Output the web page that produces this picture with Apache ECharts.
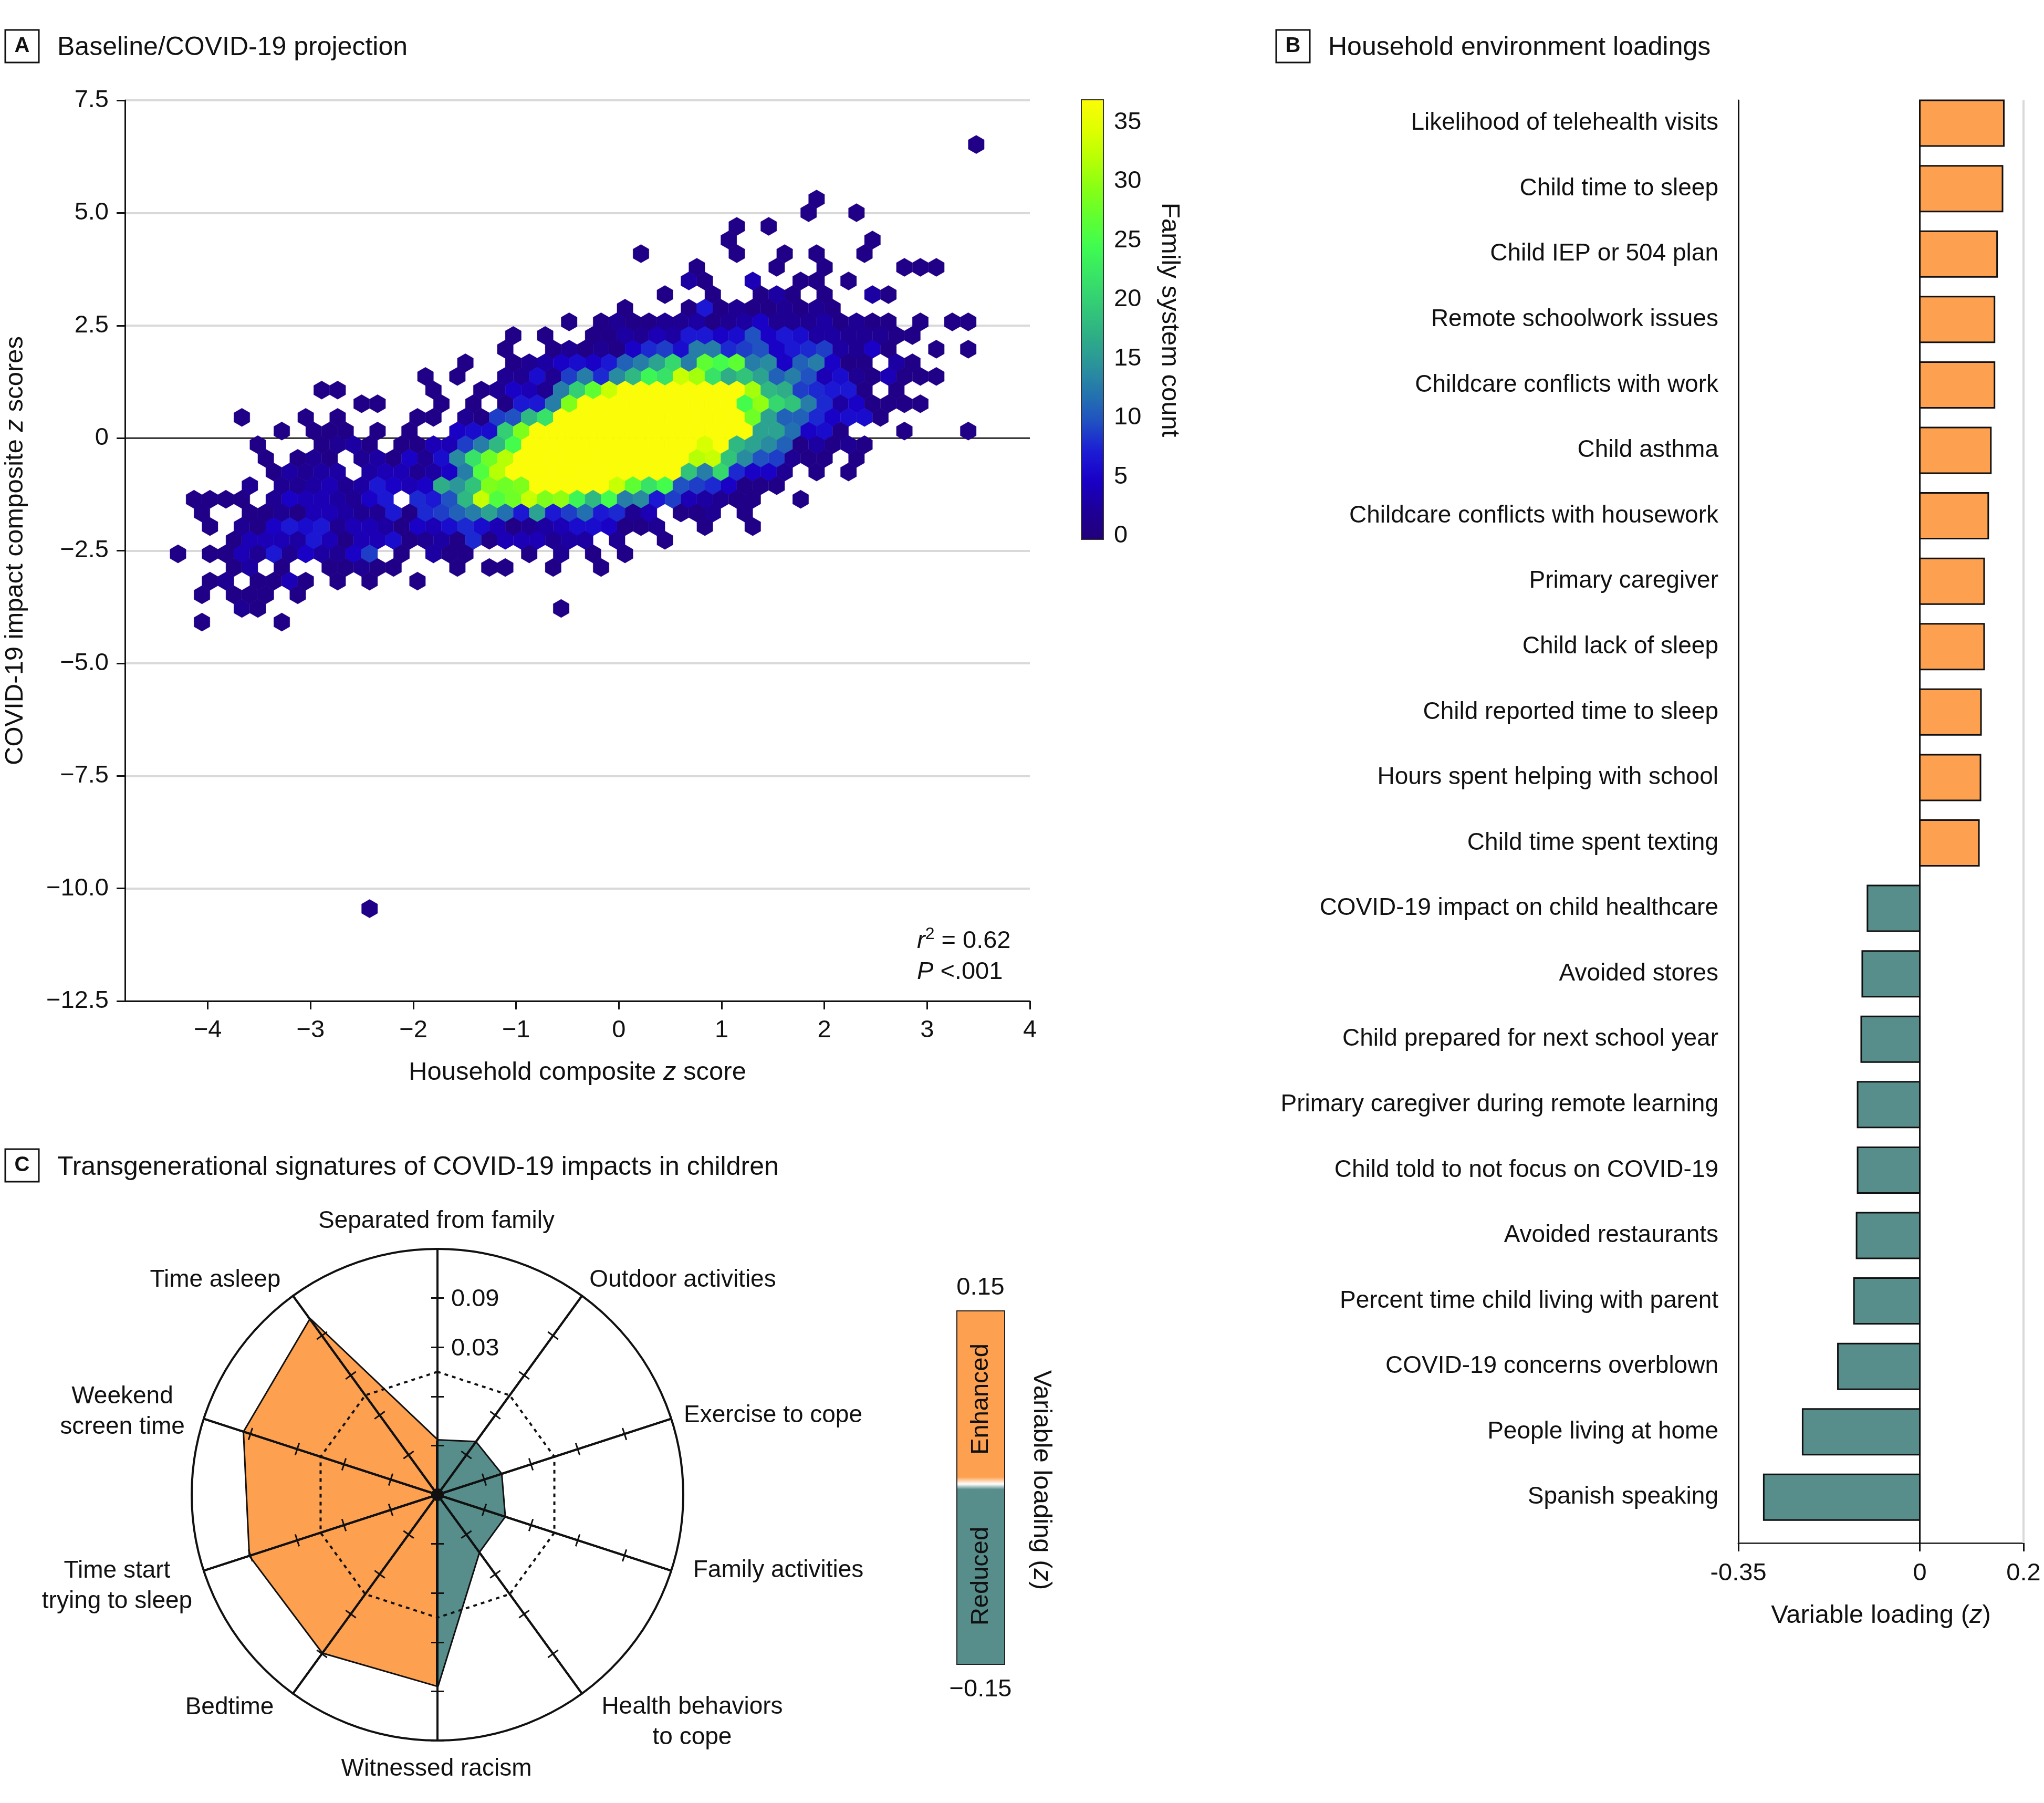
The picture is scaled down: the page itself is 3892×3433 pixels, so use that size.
<!DOCTYPE html>
<html>
<head>
<meta charset="utf-8">
<title>Baseline/COVID-19 projection</title>
<style>
  html, body { margin: 0; padding: 0; background: #fff; }
  #chart { width: 3892px; height: 3433px; }
</style>
<script src="https://cdn.jsdelivr.net/npm/echarts@6/dist/echarts.min.js"></script>
</head>
<body>
<div id="chart"></div>
<script>
// panel A: hexbin counts, one list per hex row. row index r gives y, start is the first column
const hexRowIndex = [21, 17, 16, 15, 14, 13, 12, 11, 10, 9, 8, 7, 6, 5, 4, 3, 2, 1, 0, -1, -2, -3, -4, -5, -6, -7, -8, -9, -10, -11, -12, -13, -14, -35];
const hexRowStart = [50, 40, 39, 35, 34, 29, 32, 32, 30, 28, 24, 21, 20, 18, 15, 9, 11, 4, 6, 5, 5, 6, 4, 1, 1, 2, 3, 0, 3, 2, 1, 4, 1, 12];
const hexRowCounts = [
  [1],
  [1],
  [1,0,0,1],
  [1,0,1],
  [1,0,0,0,0,0,0,0,0,1],
  [1,0,0,0,0,0,1,0,0,1,0,1,0,0,1],
  [1,0,0,0,0,1,0,0,1,0,0,0,0,1,1,1],
  [3,1,0,0,4,0,0,1,1,0,1],
  [1,0,0,1,0,0,1,3,1,0,1,0,0,3,1],
  [1,0,0,0,1,7,1,2,1,1,2,1,2,1],
  [1,0,1,2,1,1,2,2,3,1,2,3,5,2,2,2,3,1,2,1,1,0,1,0,1,1],
  [1,0,1,0,0,1,1,3,2,4,3,7,7,5,6,10,5,7,6,3,3,2,2,2,1,1],
  [1,0,0,1,2,1,2,1,5,8,9,6,13,13,8,9,10,5,7,8,9,3,2,5,1,0,0,1,0,1],
  [1,0,0,1,2,3,5,6,5,7,11,13,16,21,13,27,25,27,13,14,5,11,13,5,1,1,0,3,1],
  [1,0,1,0,0,2,2,6,2,9,13,8,14,18,24,22,33,31,22,17,19,16,11,13,10,4,6,2,1,4,1,1,1],
  [1,1,0,0,0,0,0,1,0,0,1,2,5,4,2,13,20,27,33,37,37,37,37,37,37,37,37,31,18,17,9,8,7,7,1,0,1],
  [1,1,0,0,0,1,0,1,0,1,7,7,13,29,37,37,37,37,37,37,37,37,37,37,25,30,21,19,13,8,3,5,1,1,1,1],
  [1,0,0,0,1,0,1,0,0,0,0,1,1,0,2,1,9,10,18,22,37,37,37,37,37,37,37,37,37,37,37,37,28,16,11,11,8,5,6,6,1],
  [1,0,1,1,1,0,1,0,1,0,0,5,6,6,20,29,37,37,37,37,37,37,37,37,37,37,37,37,37,37,16,16,12,5,6,1,0,0,0,1,0,0,0,1],
  [1,0,0,0,1,2,3,1,0,1,1,4,4,9,13,18,25,37,37,37,37,37,37,37,37,37,37,37,34,37,18,16,14,11,1,3,1,2,1],
  [1,0,1,2,1,0,2,3,1,5,2,6,14,22,28,32,37,37,37,37,37,37,37,37,37,37,37,32,33,19,14,10,9,2,1,1,0,1],
  [1,3,2,3,3,0,3,4,4,2,3,5,13,26,32,37,37,37,37,37,37,37,37,37,37,37,19,13,21,8,5,5,2,0,1,0,1],
  [2,0,2,2,3,4,2,3,7,5,4,5,17,15,19,29,28,29,37,37,37,37,37,33,27,22,25,10,9,8,5,1,1,1],
  [1,1,1,1,0,2,5,4,4,3,2,5,7,0,8,7,10,18,33,26,28,33,29,30,24,18,25,13,14,7,9,4,3,2,1,1,0,0,1],
  [1,0,0,1,1,2,1,4,4,3,2,2,7,1,8,9,11,13,16,12,7,16,7,9,12,7,8,2,4,0,1,1,2,0,1],
  [1,0,2,1,5,7,6,7,2,4,4,3,1,5,4,6,8,6,4,1,2,3,4,6,6,5,1,1,2,0,0,1,0,0,1],
  [1,4,4,4,3,7,4,1,4,4,6,1,2,3,1,8,1,4,4,4,2,3,3,0,2,0,0,1],
  [1,0,1,1,4,2,7,2,5,3,2,5,9,0,1,0,3,1,1,0,0,0,1,0,2,0,1,0,1],
  [1,3,0,1,0,0,1,1,2,1,1,0,0,0,1,0,1,1,0,0,1,0,0,1],
  [1,2,0,1,1,4,1,0,1,0,1,0,0,1],
  [1,0,1,1,1,0,1],
  [2,1,0,0,0,0,0,0,0,0,0,0,0,0,0,0,0,0,0,0,1],
  [1,0,0,0,0,1],
  [1]
];
const hexX0 = -4.29, hexPitchX = 0.15536, hexY0 = 0.156, hexPitchY = 0.303;
const hexColors = ['#22007a', '#1d0098', '#1900c6', '#1c1cd4', '#2050c2', '#2475ad', '#2b959a', '#2eb085',
  '#33cb76', '#38e466', '#3ffc50', '#60ff30', '#88ff14', '#b8ff05', '#e0ff00', '#fbfc08'];
const xTicksA = [-4, -3, -2, -1, 0, 1, 2, 3, 4];
const colorbarTicks = [0, 5, 10, 15, 20, 25, 30, 35];

// panel B
const loadingNames = ['Likelihood of telehealth visits', 'Child time to sleep', 'Child IEP or 504 plan', 'Remote schoolwork issues',
  'Childcare conflicts with work', 'Child asthma', 'Childcare conflicts with housework', 'Primary caregiver',
  'Child lack of sleep', 'Child reported time to sleep', 'Hours spent helping with school', 'Child time spent texting',
  'COVID-19 impact on child healthcare', 'Avoided stores', 'Child prepared for next school year',
  'Primary caregiver during remote learning', 'Child told to not focus on COVID-19', 'Avoided restaurants',
  'Percent time child living with parent', 'COVID-19 concerns overblown', 'People living at home', 'Spanish speaking'];
const loadingValues = [0.162, 0.1595, 0.149, 0.144, 0.144, 0.137, 0.132, 0.124, 0.124, 0.118, 0.117, 0.114,
  -0.101, -0.111, -0.113, -0.120, -0.120, -0.122, -0.127, -0.158, -0.226, -0.301];
const xTicksB = [-0.35, 0, 0.2];

// panel C, radar runs counter-clockwise from the top
const radarNames = ['Separated from family', 'Time asleep', 'Weekend screen time', 'Time start trying to sleep', 'Bedtime',
  'Witnessed racism', 'Health behaviors to cope', 'Family activities', 'Exercise to cope', 'Outdoor activities'];
const radarEnhanced = [-0.084, 0.114, 0.098, 0.0905, 0.088, 0.083, -0.15, -0.15, -0.15, -0.15];
const radarReduced = [-0.084, -0.15, -0.15, -0.15, -0.15, 0.083, -0.064, -0.064, -0.0685, -0.071];
const radarZero = [0, 0, 0, 0, 0, 0, 0, 0, 0, 0];

const ORANGE = '#fda04f';
const TEAL = '#578d8b';
const FONT = '"Liberation Sans", sans-serif';
const FS = 49;
const FS_LABEL = 47;
const minus = s => String(s).replace('-', '\u2212');

const hexData = [];
hexRowCounts.forEach((counts, i) => {
  const r = hexRowIndex[i];
  const shift = r % 2 === 0 ? 0.5 : 0;
  counts.forEach((c, k) => {
    if (!c) return;
    hexData.push([hexX0 + hexPitchX * (hexRowStart[i] + k + shift), hexY0 + hexPitchY * r, c]);
  });
});

function renderHex(params, api){
  const c = api.coord([api.value(0), api.value(1)]);
  const w = api.size([hexPitchX, 0])[0];
  const R = w / Math.sqrt(3);
  const pts = [];
  for (let a = 0; a < 6; a++) {
    const t = Math.PI / 6 + a * Math.PI / 3;
    pts.push([c[0] + R * Math.cos(t), c[1] + R * Math.sin(t)]);
  }
  const color = api.visual('color');
  return { type: 'polygon', shape: { points: pts }, style: { fill: color, stroke: color, lineWidth: 0.4 } };
}

function renderLoading(params, api){
  const v = api.value(0);
  const a = api.coord([0, api.value(1)]);
  const b = api.coord([v, api.value(1)]);
  const h = 87;
  return {
    type: 'rect',
    shape: { x: Math.min(a[0], b[0]), y: a[1] - h / 2, width: Math.abs(b[0] - a[0]), height: h },
    style: { fill: v > 0 ? ORANGE : TEAL, stroke: '#111', lineWidth: 3 }
  };
}

const richText = {
  a: { fontFamily: FONT, fontSize: FS, color: '#111' },
  i: { fontFamily: FONT, fontSize: FS, fontStyle: 'italic', color: '#111' },
  b: { fontFamily: FONT, fontSize: FS_LABEL, color: '#111' },
  j: { fontFamily: FONT, fontSize: FS_LABEL, fontStyle: 'italic', color: '#111' },
  s: { fontFamily: FONT, fontSize: 32, verticalAlign: 'top', color: '#111' }
};
const blackLine = { show: true, onZero: false, lineStyle: { color: '#111', width: 3 } };
const blackTick = { show: true, length: 16, lineStyle: { color: '#111', width: 3 } };
const axisText = { fontFamily: FONT, fontSize: FS_LABEL, color: '#111', padding: [5, 0, 0, 0] };

function radarBase(extra){
  return Object.assign({
    center: [833, 2846],
    radius: 468,
    shape: 'circle',
    startAngle: 90,
    splitNumber: 5,
    z: 3,
    indicator: radarNames.map(name => ({ name, min: -0.15, max: 0.15 })),
    axisName: { show: false },
    axisLine: { show: false },
    axisTick: { show: false },
    axisLabel: { show: false },
    splitLine: { show: false },
    splitArea: { show: false }
  }, extra);
}

function panelBox(x, y, letter){
  return [
    { type: 'rect', shape: { x, y, width: 64, height: 62 }, style: { fill: '#fff', stroke: '#111', lineWidth: 3 } },
    { type: 'text', x: x + 32, y: y + 31, style: { text: letter, fontFamily: FONT, fontWeight: 'bold', fontSize: 40, fill: '#111', align: 'center', verticalAlign: 'middle' } }
  ];
}

function label(x, y, text, opts){
  return Object.assign({ type: 'text', x, y, style: Object.assign({ text, fontFamily: FONT, fontSize: FS_LABEL, lineHeight: 58, fill: '#111', align: 'center', verticalAlign: 'middle', rich: richText }, opts && opts.style) }, opts && opts.el);
}

const graphicEls = [
  ...panelBox(10, 57, 'A'),
  ...panelBox(2430, 57, 'B'),
  ...panelBox(10, 2188, 'C'),
  label(109, 91, 'Baseline/COVID-19 projection', { style: { align: 'left', fontSize: 50 } }),
  label(2529, 91, 'Household environment loadings', { style: { align: 'left', fontSize: 50 } }),
  label(109, 2223, 'Transgenerational signatures of COVID-19 impacts in children', { style: { align: 'left', fontSize: 50 } }),
  label(1746, 1792, '{j|r}{s|2}{b| = 0.62}', { style: { align: 'left' } }),
  label(1746, 1851, '{j|P}{b| <.001}', { style: { align: 'left' } }),
  label(2227, 609, '{a|Family system count}', { el: { rotation: -Math.PI / 2 } }),
  // panel C names
  label(831, 2325, 'Separated from family', { style: { fontSize: 46 } }),
  label(1300, 2437, 'Outdoor activities', { style: { fontSize: 46 } }),
  label(1472, 2695, 'Exercise to cope', { style: { fontSize: 46 } }),
  label(1482, 2990, 'Family activities', { style: { fontSize: 46 } }),
  label(1318, 3279, 'Health behaviors\nto cope', { style: { fontSize: 46 } }),
  label(831, 3368, 'Witnessed racism', { style: { fontSize: 46 } }),
  label(437, 3251, 'Bedtime', { style: { fontSize: 46 } }),
  label(223, 3020, 'Time start\ntrying to sleep', { style: { fontSize: 46 } }),
  label(233, 2688, 'Weekend\nscreen time', { style: { fontSize: 46 } }),
  label(410, 2437, 'Time asleep', { style: { fontSize: 46 } }),
  // panel C legend
  { type: 'rect', shape: { x: 1822, y: 2496, width: 91, height: 673 },
    style: { stroke: '#222', lineWidth: 2, fill: new echarts.graphic.LinearGradient(0, 0, 0, 1, [
      { offset: 0, color: ORANGE }, { offset: 0.47, color: ORANGE }, { offset: 0.49, color: '#fff' }, { offset: 0.505, color: TEAL }, { offset: 1, color: TEAL }
    ]) } },
  label(1867, 2452, '0.15'),
  label(1867, 3217, minus('-0.15')),
  label(1868, 2664, 'Enhanced', { el: { rotation: Math.PI / 2 } }),
  label(1868, 3001, 'Reduced', { el: { rotation: Math.PI / 2 } }),
  label(1983, 2818, '{a|Variable loading (}{i|z}{a|)}', { el: { rotation: -Math.PI / 2 } }),
  label(859, 2474, '0.09', { style: { align: 'left' } }),
  label(859, 2568, '0.03', { style: { align: 'left' } })
];

const chart = echarts.init(document.getElementById('chart'), null, { renderer: 'canvas' });
chart.setOption({
  animation: false,
  backgroundColor: '#fff',
  textStyle: { fontFamily: FONT },
  grid: [
    { left: 238, top: 191, width: 1723, height: 1715 },
    { left: 2059, top: 190, width: 42, height: 837, show: true, borderColor: '#333', borderWidth: 2, backgroundColor: 'transparent', z: 5 },
    { left: 3310, top: 191, width: 543, height: 2747 }
  ],
  xAxis: [
    { gridIndex: 0, type: 'value', min: -4.806, max: 4, splitLine: { show: false }, axisLine: blackLine,
      axisTick: Object.assign({ customValues: xTicksA }, blackTick),
      axisLabel: Object.assign({ customValues: xTicksA, margin: 28, formatter: minus }, axisText),
      name: '{a|Household composite }{i|z}{a| score}', nameLocation: 'middle', nameGap: 112, nameTextStyle: { rich: richText } },
    { gridIndex: 1, type: 'value', show: false, min: 0, max: 1 },
    { gridIndex: 2, type: 'value', min: -0.35, max: 0.2, splitLine: { show: false },
      axisLine: { show: true, onZero: false, lineStyle: { color: '#333', width: 3 } },
      axisTick: Object.assign({ customValues: xTicksB }, blackTick),
      axisLabel: Object.assign({ customValues: xTicksB, margin: 30, formatter: v => String(v) }, axisText),
      name: '{a|Variable loading (}{i|z}{a|)}', nameLocation: 'middle', nameGap: 114, nameTextStyle: { rich: richText } }
  ],
  yAxis: [
    { gridIndex: 0, type: 'value', min: -12.5, max: 7.5, interval: 2.5, axisLine: blackLine, axisTick: blackTick,
      splitLine: { show: true, lineStyle: { color: '#d9d9d9', width: 4 } },
      axisLabel: Object.assign({ margin: 31, formatter: v => v === 0 ? '0' : minus(v.toFixed(1)) }, axisText),
      name: '{a|COVID-19 impact composite }{i|z}{a| scores}', nameLocation: 'middle', nameGap: 184, nameTextStyle: { rich: richText } },
    { gridIndex: 1, type: 'value', position: 'right', min: -0.3, max: 36.9, splitLine: { show: false }, axisLine: { show: false }, axisTick: { show: false },
      axisLabel: Object.assign({ customValues: colorbarTicks, margin: 20 }, axisText) },
    { gridIndex: 2, type: 'value', inverse: true, min: -0.35, max: 21.70, splitLine: { show: false }, axisLine: blackLine, axisTick: { show: false },
      axisLabel: Object.assign({ customValues: loadingNames.map((_, i) => i), margin: 38, formatter: v => loadingNames[v] }, axisText, { fontSize: 46 }) }
  ],
  visualMap: [{
    type: 'continuous', seriesIndex: 1, dimension: 2, min: 0, max: 37, show: true, calculable: false,
    left: 2059, top: 190, itemWidth: 42, itemHeight: 837, padding: 0, text: null, showLabel: false,
    inRange: { color: hexColors }, hoverLink: false
  }],
  radar: [
    radarBase({ axisLine: { show: true, lineStyle: { color: '#111', width: 4 } },
      axisTick: { show: true, length: 12, lineStyle: { color: '#111', width: 3 } } }),
    radarBase({ axisLine: { show: true, lineStyle: { color: '#111', width: 4 } },
      axisTick: { show: true, length: -12, lineStyle: { color: '#111', width: 3 } } }),
    radarBase({ splitNumber: 1, splitLine: { show: true, lineStyle: { color: '#111', width: 4 } } })
  ],
  graphic: graphicEls,
  series: [
    { type: 'line', xAxisIndex: 0, yAxisIndex: 0, z: 1, silent: true, showSymbol: false, data: [[-4.806, 0], [4, 0]], lineStyle: { color: '#111', width: 2.5 } },
    { type: 'custom', xAxisIndex: 0, yAxisIndex: 0, z: 2, silent: true, renderItem: renderHex, encode: { x: 0, y: 1 }, data: hexData },
    { type: 'line', xAxisIndex: 2, yAxisIndex: 2, z: 1, silent: true, showSymbol: false, data: [[0.2, -0.35], [0.2, 21.70]], lineStyle: { color: '#d9d9d9', width: 4 } },
    { type: 'line', xAxisIndex: 2, yAxisIndex: 2, z: 1, silent: true, showSymbol: false, data: [[0, -0.35], [0, 21.70]], lineStyle: { color: '#111', width: 3 } },
    { type: 'custom', xAxisIndex: 2, yAxisIndex: 2, z: 2, silent: true, renderItem: renderLoading, encode: { x: 0, y: 1 },
      data: loadingValues.map((v, i) => [v, i]) },
    { type: 'radar', radarIndex: 0, z: 1, silent: true, symbol: 'none', lineStyle: { color: '#111', width: 6 }, areaStyle: { color: ORANGE, opacity: 1 },
      data: [{ value: radarEnhanced }] },
    { type: 'radar', radarIndex: 0, z: 1, silent: true, symbol: 'none', lineStyle: { color: '#111', width: 6 }, areaStyle: { color: TEAL, opacity: 1 },
      data: [{ value: radarReduced }] },
    { type: 'radar', radarIndex: 0, z: 1, silent: true, symbol: 'none', lineStyle: { color: '#111', width: 4, type: [7, 8] },
      data: [{ value: radarZero }] }
  ]
});
</script>
</body>
</html>
